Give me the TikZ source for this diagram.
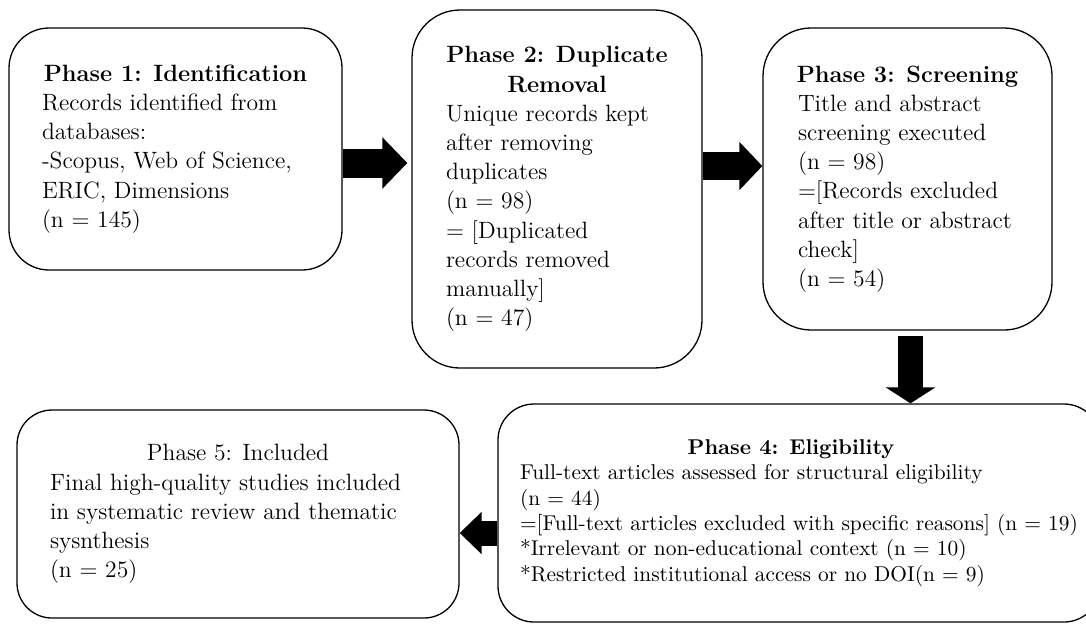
\documentclass[tikz,border=0pt]{standalone}
\usepackage{tikz}
\usetikzlibrary{arrows.meta}
\newcommand{\phasehead}[2]{\makebox[#1][c]{\bfseries #2}}

\begin{document}
\begin{tikzpicture}[x=0.5pt, y=-0.5pt,
    phase/.style={draw, line width=0.65pt, align=left, inner sep=0pt, font=\fontsize{11.8}{14.6}\selectfont},
    flow/.style n args={3}{line width=#1, -{Triangle[length=#2, width=#3]}}
  ]
  \useasboundingbox (0,0) rectangle (1086,623);

  \node[phase, minimum width=166.5pt, minimum height=121pt, rounded corners=20pt] (p1) at (175.5,149)
    {\phasehead{133.5pt}{Phase 1: Identification}\\
     Records identified from\\
     databases:\\
     -Scopus, Web of Science,\\
     ERIC, Dimensions\\
     (n = 145)};
  \node[phase, minimum width=145pt, minimum height=179pt, rounded corners=24pt] (p2) at (557,189)
    {\phasehead{111pt}{Phase 2: Duplicate}\\
     \phasehead{111pt}{Removal}\\
     Unique records kept\\
     after removing\\
     duplicates\\
     (n = 98)\\
     = [Duplicated\\
     records removed\\
     manually]\\
     (n = 47)};
  \node[phase, minimum width=144.5pt, minimum height=151pt, rounded corners=24pt] (p3) at (907.5,179)
    {\phasehead{109.5pt}{Phase 3: Screening}\\
     Title and abstract\\
     screening executed\\
     (n = 98)\\
     =[Records excluded\\
     after title or abstract\\
     check]\\
     (n = 54)};
  \node[phase, minimum width=301pt, minimum height=109pt, rounded corners=18pt,
        font=\fontsize{10.7}{12.7}\selectfont] (p4) at (799,513)
    {\phasehead{271pt}{Phase 4: Eligibility}\\
     Full-text articles assessed for structural eligibility\\
     (n = 44)\\
     =[Full-text articles excluded with specific reasons] (n = 19)\\
     *Irrelevant or non-educational context (n = 10)\\
     *Restricted institutional access or no DOI(n = 9)};
  \node[phase, minimum width=221pt, minimum height=104pt, rounded corners=17.5pt] (p5) at (238,514)
    {\makebox[188pt][c]{Phase 5: Included}\\
     Final high-quality studies included\\
     in systematic review and thematic\\
     sysnthesis\\
     (n = 25)};

  \coordinate (a1) at ([yshift=-7pt]p1.east);
  \draw[flow={14.5pt}{12.5pt}{25pt}, shorten >=2pt] (a1) -- (a1 -| p2.west);
  \coordinate (a2) at ([yshift=11.5pt]p2.east);
  \draw[flow={14pt}{11.5pt}{23.5pt}] (a2) -- (a2 -| p3.west);
  \coordinate (a3) at ([xshift=1.5pt]p3.south);
  \draw[flow={12.5pt}{8pt}{24.5pt}, shorten <=2.5pt] (a3) -- (a3 |- p4.north);
  \coordinate (a4) at ([yshift=-10pt]p4.west);
  \draw[flow={12.5pt}{11pt}{20.5pt}] (a4) -- (a4 -| p5.east);
\end{tikzpicture}
\end{document}
